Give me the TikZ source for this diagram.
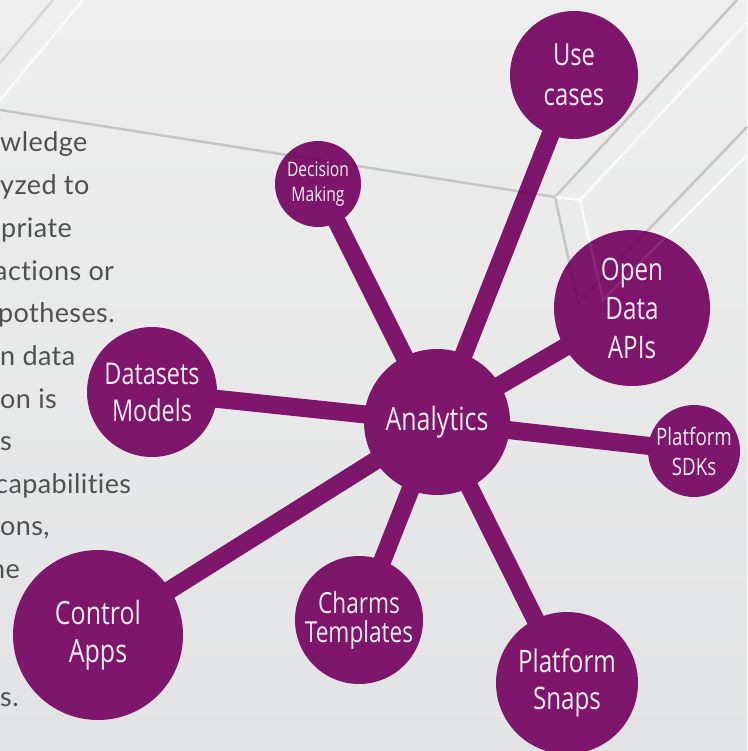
\documentclass[tikz,border=0pt]{standalone}
\usepackage{fontspec}
\usepackage{tikz}
\setmainfont[LetterSpace=1.5,Ligatures=NoCommon]{Lato}
\newfontfamily\bubblefont[FakeStretch=0.78]{Open Sans}

\definecolor{aubergine}{RGB}{126,22,108}
\definecolor{bubbletext}{RGB}{242,236,242}
\definecolor{bodytext}{RGB}{80,80,80}
\definecolor{bgtop}{RGB}{238,238,238}
\definecolor{bgbottom}{RGB}{226,227,228}
\definecolor{rimgray}{RGB}{214,214,214}

\pgfdeclarelayer{bg}
\pgfdeclarelayer{spokes}
\pgfsetlayers{bg,spokes,main}

\newcommand{\bsize}[2]{\bubblefont\fontsize{#1}{#2}\selectfont}

\tikzset{
	bubble/.style={circle,fill=aubergine,text=bubbletext,inner sep=0pt,align=center},
	spoke/.style={draw=aubergine,line width=18pt},
	bodyline/.style={anchor=base west,text=bodytext,inner sep=0pt,font=\fontsize{27}{30}\selectfont},
	rimline/.style={draw=rimgray,line width=2.5pt},
	glintline/.style={draw=white,line width=2.5pt,opacity=0.7}
}

\begin{document}
\begin{tikzpicture}[x=1pt,y=-1pt]
		\useasboundingbox (0,0) rectangle (747,751);
		\clip (0,0) rectangle (747,751);
		\path (0,110) coordinate (rim_left);
		\path (555,197) coordinate (rim_corner);
		\path (737,0) coordinate (rim_top);
		\path (578,303) coordinate (rim_inner);
		\path (747,127) coordinate (rim_right);
		\path (580,200) coordinate (glint_corner);
		\path (747,22) coordinate (glint_top);
		\path (603,300) coordinate (glint_inner);
		\path (747,155) coordinate (glint_right);
		\path (53,0) coordinate (tl_rim_a);
		\path (0,63) coordinate (tl_rim_b);
		\path (83,0) coordinate (tl_glint_a);
		\path (0,100) coordinate (tl_glint_b);

		\begin{pgfonlayer}{bg}
		\shade[top color=bgtop,bottom color=bgbottom] (0,0) rectangle (747,751);
		\draw[rimline] (rim_left) -- (rim_corner) -- (rim_top);
		\draw[rimline] (rim_corner) -- (rim_inner) -- (rim_right);
		\draw[glintline] (rim_corner) -- (glint_corner) -- (glint_top);
		\draw[glintline] (glint_corner) -- (glint_inner) -- (glint_right);
		\draw[rimline] (tl_rim_a) -- (tl_rim_b);
		\draw[glintline] (tl_glint_a) -- (tl_glint_b);

		\node[bodyline] (txt1) at (0,152) {wledge};
		\node[bodyline] (txt2) at (0,195) {yzed to};
		\node[bodyline] (txt3) at (1,237) {priate};
		\node[bodyline] (txt4) at (-6,280) {actions or};
		\node[bodyline] (txt5) at (-2,322) {potheses.};
		\node[bodyline] (txt6) at (0,365) {n data};
		\node[bodyline] (txt7) at (0,408) {on is};
		\node[bodyline] (txt8) at (0,450) {s};
		\node[bodyline] (txt9) at (-5,493) {capabilities};
		\node[bodyline] (txt10) at (0,535) {ons,};
		\node[bodyline] (txt11) at (-10,578) {he};
		\node[bodyline] (txt12) at (0,706) {s.};
		\end{pgfonlayer}

		\node[bubble,minimum size=146pt,font=\bsize{32}{38}] (analytics) at (437,422) {Analytics};
		\node[bubble,minimum size=128pt,font=\bsize{30.5}{40}] (usecases) at (574,75) {Use\\cases};
		\node[bubble,minimum size=156pt,font=\bsize{31}{39}] (opendata) at (632,308) {Open\\Data\\APIs};
		\node[bubble,minimum size=92pt,font=\bsize{24}{30}] (sdks) at (694,451) {Platform\\SDKs};
		\node[bubble,minimum size=86pt,font=\bsize{20}{25}] (decision) at (318,184) {Decision\\Making};
		\node[bubble,minimum size=130pt,font=\bsize{30}{37}] (datasets) at (152,392) {Datasets\\Models};
		\node[bubble,minimum size=170pt,font=\bsize{32}{38}] (control) at (98,635) {Control\\Apps};
		\node[bubble,minimum size=128pt,font=\bsize{29}{29}] (charms) at (359,620) {Charms\\Templates};
		\node[bubble,minimum size=142pt,font=\bsize{31}{37}] (snaps) at (567,683) {Platform\\Snaps};

		\begin{pgfonlayer}{spokes}
		\foreach \leaf in {usecases,opendata,sdks,decision,datasets,control,charms,snaps}
			\draw[spoke] (analytics.center) -- (\leaf.center);
		\end{pgfonlayer}

		% rim lines faintly seen through the purple
		\draw[rimline,opacity=0.07,draw=black] (rim_left) -- (rim_corner) -- (rim_top);
		\draw[rimline,opacity=0.07,draw=black] (rim_corner) -- (rim_inner) -- (rim_right);
		\draw[glintline,opacity=0.08] (glint_corner) -- (glint_inner) -- (glint_right);
	\end{tikzpicture}
\end{document}
